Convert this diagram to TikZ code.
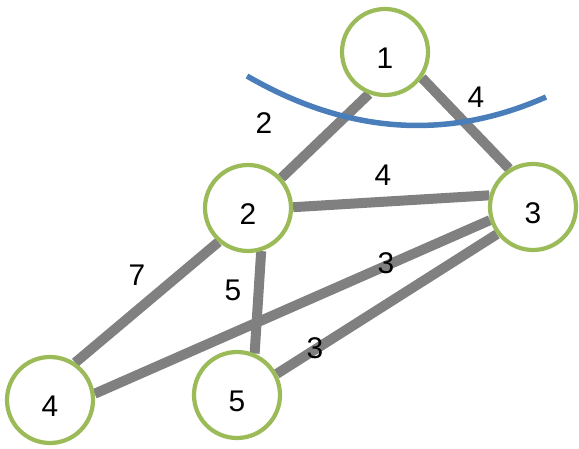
\documentclass[tikz,border=0pt]{standalone}
\usepackage{fontspec}
\setmainfont{Liberation Sans}
\usetikzlibrary{backgrounds}
\definecolor{vertexgreen}{HTML}{9BBB59}
\definecolor{edgegray}{HTML}{808080}
\definecolor{cutblue}{HTML}{4A7EBB}
\begin{document}
\begin{tikzpicture}[x=1bp,y=-1bp,
    every node/.style={font=\fontsize{30}{36}\selectfont},
    vertex/.style={circle,draw=vertexgreen,line width=4.2bp,fill=white,
      minimum size=86bp,inner sep=0pt,text height=33bp,text depth=0pt},
    edge/.style={draw=edgegray,line width=10bp},
    weight/.style={inner sep=0pt},
    cut/.style={draw=cutblue,line width=5.5bp}]
  \useasboundingbox (0,0) rectangle (579,449);
  \draw
    (385,52) node[vertex] (1){1}
    (248,208) node[vertex] (2){2}
    (533,207) node[vertex] (3){3}
    (50,400) node[vertex] (4){4}
    (237,395) node[vertex] (5){5};
  \begin{scope}[on background layer]
    \draw[edge] (1.249) to (2.42);
    \draw[edge] (1.325) to (3.122);
    \draw[edge] (2.1) to (3.165);
    \draw[edge] (2.229) to (4.56);
    \draw[edge] (2.287) to (5.67);
    \draw[edge] (4.8) to (3.197);
    \draw[edge] (5.28) to (3.217);
  \end{scope}
  \coordinate (cutL) at (247,76);
  \coordinate (cutR) at (546,97);
  \draw[cut] (cutL) .. controls (347,134) and (447,141) .. (cutR);
  \node[weight] (w12) at (264,123) {2};
  \node[weight] (w13) at (476,97) {4};
  \node[weight] (w23) at (383,175) {4};
  \node[weight] (w24) at (137,275) {7};
  \node[weight] (w25) at (233,290) {5};
  \node[weight] (w43) at (386,263) {3};
  \node[weight] (w53) at (315,348) {3};
\end{tikzpicture}
\end{document}
